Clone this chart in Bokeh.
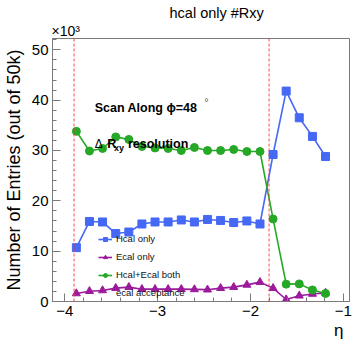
from bokeh.plotting import figure
from bokeh.models import (Label, Span, Legend, LegendItem, FixedTicker, Range1d, Title)
from bokeh.embed import file_html
from bokeh.resources import INLINE

# ---- data (counts in thousands) ----
eta = [-3.875, -3.734, -3.593, -3.451, -3.310, -3.169, -3.028, -2.887, -2.745, -2.604,
       -2.463, -2.322, -2.181, -2.039, -1.898, -1.757, -1.616, -1.475, -1.333, -1.192]
hcal_only = [10.7, 15.9, 15.8, 13.5, 13.8, 15.4, 15.8, 15.8, 16.2, 15.8,
             16.3, 16.1, 15.7, 16.0, 15.4, 29.2, 41.8, 36.5, 32.8, 28.8]
ecal_only = [1.6, 2.05, 2.2, 2.65, 2.85, 2.45, 2.45, 2.45, 2.45, 2.4,
             2.35, 2.65, 2.85, 3.3, 3.85, 2.65, 0.4, 1.15, 1.5, 1.72]
hcal_ecal_both = [33.8, 29.9, 30.4, 32.7, 32.2, 30.8, 30.5, 30.4, 30.0, 30.6,
                  30.0, 30.0, 30.2, 29.8, 29.8, 16.4, 3.45, 3.5, 2.3, 1.6]
ecal_acceptance = [-3.9, -1.8]
x_ticks = [-4, -3, -2, -1]
y_ticks = [0, 10, 20, 30, 40, 50]

FONT = "Liberation Sans"
BLUE = "#4568f5"
PURPLE = "#9c1a9c"
GREEN = "#25a825"
FRAME = "#7a7a7a"

p = figure(width=352, height=342, output_backend="svg", toolbar_location=None, title=None,
           x_range=Range1d(-4.132, -0.934), y_range=Range1d(0, 52.25),
           min_border_left=51, min_border_right=3, min_border_top=38, min_border_bottom=41)
p.background_fill_color = "white"
p.border_fill_color = "white"
p.outline_line_color = FRAME
p.outline_line_width = 1
p.grid.visible = False

# axes
p.xaxis.ticker = FixedTicker(ticks=x_ticks,
                             minor_ticks=[round(-4.2 + 0.2 * i, 2) for i in range(18)])
p.yaxis.ticker = FixedTicker(ticks=y_ticks, minor_ticks=list(range(0, 53, 2)))
p.xaxis.major_label_overrides = {t: "\u2212" + str(abs(t)) for t in x_ticks}
for ax in (p.xaxis, p.yaxis):
    ax.axis_line_color = FRAME
    ax.major_tick_line_color = FRAME
    ax.minor_tick_line_color = FRAME
    ax.major_tick_in = 8
    ax.major_tick_out = 0
    ax.minor_tick_in = 4
    ax.minor_tick_out = 0
    ax.major_label_text_font = FONT
    ax.major_label_text_font_size = "15px"
    ax.major_label_text_color = "black"
    ax.major_label_standoff = 4
    ax.axis_label_text_font = FONT
    ax.axis_label_text_font_style = "normal"
    ax.axis_label_text_color = "black"

p.yaxis.axis_label = "Number of Entries (out of 50k)"
p.yaxis.axis_label_text_font_size = "18px"
p.yaxis.axis_label_standoff = 5

# x-axis title, right-aligned below the tick labels
p.add_layout(Title(text="\u03b7", align="right", offset=6, standoff=0,
                   text_font=FONT, text_font_size="17px", text_font_style="normal",
                   text_color="black"), "below")

# titles above the frame (first added sits nearest the frame)
p.add_layout(Title(text="\u00d710\u00b3", align="left", offset=-1, standoff=0,
                   text_font=FONT, text_font_size="14px", text_font_style="normal",
                   text_color="black"), "above")
p.add_layout(Title(text="hcal only #Rxy", align="left", offset=117, standoff=0,
                   text_font=FONT, text_font_size="14.5px", text_font_style="normal",
                   text_color="black"), "above")

# acceptance lines
for loc in ecal_acceptance:
    p.add_layout(Span(location=loc, dimension="height", line_color="#ff3333",
                      line_dash="3 2", line_width=1, line_alpha=0.9))
acc_legend = p.line(x=[], y=[], line_color="#ff3333", line_dash="3 2", line_width=1)

# series
l_h = p.line(eta, hcal_only, line_color=BLUE, line_width=1.6)
s_h = p.scatter(eta, hcal_only, marker="square", size=8, color=BLUE)
l_e = p.line(eta, ecal_only, line_color=PURPLE, line_width=1.6)
s_e = p.scatter(eta, ecal_only, marker="triangle", size=8, color=PURPLE)
l_b = p.line(eta, hcal_ecal_both, line_color=GREEN, line_width=1.6)
s_b = p.scatter(eta, hcal_ecal_both, marker="circle", size=8, color=GREEN)

legend = Legend(items=[
    LegendItem(label="Hcal only", renderers=[l_h, s_h]),
    LegendItem(label="Ecal only", renderers=[l_e, s_e]),
    LegendItem(label="Hcal+Ecal both", renderers=[l_b, s_b]),
    LegendItem(label="ecal acceptance", renderers=[acc_legend]),
], location=(46, 3), padding=0, margin=0, spacing=7, glyph_width=14, glyph_height=10,
    label_height=10, label_standoff=4, border_line_alpha=0, background_fill_alpha=0,
    label_text_font=FONT, label_text_font_size="9.5px", label_text_color="#111111")
p.add_layout(legend)

def lab(x, y, text, size, bold=False, align="left", baseline="alphabetic", color="black"):
    p.add_layout(Label(x=x, y=y, text=text, text_font=FONT, text_font_size=size,
                       text_font_style="bold" if bold else "normal", text_align=align,
                       text_baseline=baseline, text_color=color))

# in-plot texts
lab(-3.678, 38.37, "Scan Along \u03d5=48", "12.5px", bold=True)
lab(-2.473, 39.6, "\u00b0", "10px", align="center", baseline="middle", color="#555555")
lab(-3.678, 31.3, "\u0394", "12px")
lab(-3.542, 31.3, "R", "12.5px", bold=True)
lab(-3.471, 30.4, "xy", "9px", bold=True)
lab(-3.320, 31.3, "resolution", "12.5px", bold=True)

open("out.html", "w").write(file_html(p, INLINE))
